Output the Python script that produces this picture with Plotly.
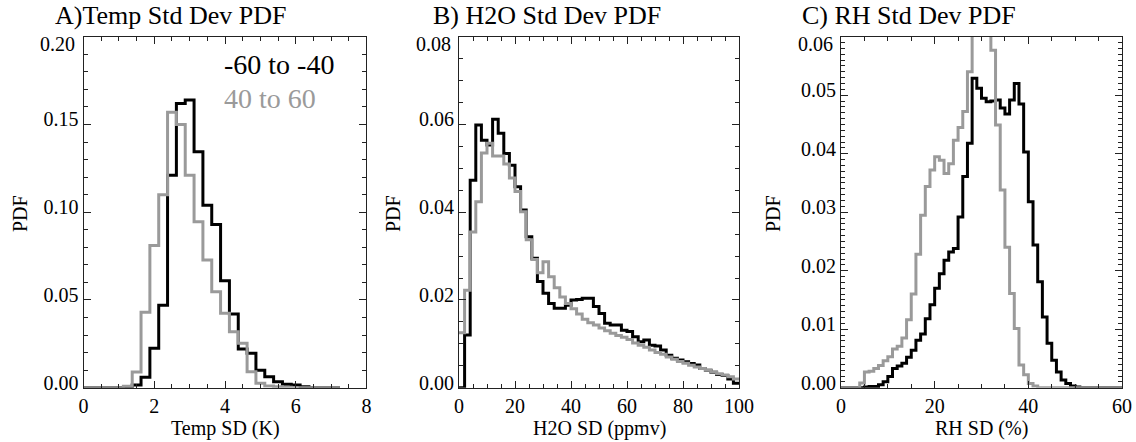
import plotly.graph_objects as go

# ---------------- data ----------------
# Panel A: temperature SD histogram (bin centres, width 0.25 K)
temp_x = [i * 0.25 for i in range(30)]
temp_s = [0, 0, 0, 0, 0, 0, 0.0015, 0.006, 0.0225, 0.047,
          0.121, 0.162, 0.164, 0.1345, 0.104, 0.093, 0.061, 0.042, 0.022, 0.0196,
          0.010, 0.0063, 0.0034, 0.002, 0.0015, 0.0006, 0, 0, 0, 0]
temp_n = [0, 0, 0, 0, 0, 0.0008, 0.009, 0.043, 0.081, 0.110,
          0.157, 0.150, 0.121, 0.0946, 0.0727, 0.0547, 0.0424, 0.0319, 0.0253, 0.0091,
          0.0025, 0.001, 0.0005, 0.0002, 0, 0, 0, 0, 0, 0]

# Panel B: H2O SD histogram (lower bin edges, width 2 ppmv)
h2o_edges = [2 * i for i in range(51)]
h2o_s = [0.000, 0.012, 0.0473, 0.0599, 0.0564, 0.0553, 0.0612, 0.0580, 0.0534, 0.0507,
         0.0458, 0.0405, 0.0344, 0.0295, 0.0242, 0.0215, 0.0192, 0.0181, 0.0181, 0.0188,
         0.0200, 0.0201, 0.0204, 0.0204, 0.0185, 0.0169, 0.0147, 0.0143, 0.0143, 0.0131,
         0.0128, 0.0116, 0.0105, 0.0109, 0.0097, 0.0095, 0.0086, 0.0074, 0.0067, 0.0063,
         0.0059, 0.0055, 0.0052, 0.0044, 0.0040, 0.0035, 0.0030, 0.0028, 0.0020, 0.0010]
h2o_n = [0.0125, 0.0222, 0.0355, 0.0424, 0.0535, 0.0557, 0.0528, 0.0528, 0.0510, 0.0478,
         0.0447, 0.0401, 0.0337, 0.0292, 0.0262, 0.0287, 0.0253, 0.0228, 0.0207, 0.0192,
         0.0180, 0.0168, 0.0156, 0.0148, 0.0143, 0.0136, 0.0130, 0.0124, 0.0119, 0.0115,
         0.0110, 0.0102, 0.0097, 0.0092, 0.0086, 0.0080, 0.0076, 0.0070, 0.0065, 0.0060,
         0.0056, 0.0051, 0.0047, 0.0044, 0.0040, 0.0036, 0.0032, 0.0029, 0.0025, 0.0020]

# Panel C: RH SD histogram (lower bin edges, width 1 %)
rh_edges = list(range(61))
rh_s = [0, 0, 0, 0, 0, 0.0001, 0.0002, 0.0002, 0.0005, 0.0010,
        0.0019, 0.0033, 0.0037, 0.0042, 0.0052, 0.0064, 0.0081, 0.0092, 0.0118, 0.0142,
        0.0170, 0.0195, 0.0218, 0.0232, 0.0238, 0.0292, 0.0361, 0.0418, 0.0529, 0.0512,
        0.0495, 0.0489, 0.0490, 0.0492, 0.0478, 0.0468, 0.0492, 0.0520, 0.0485, 0.0403,
        0.0318, 0.0244, 0.0181, 0.0121, 0.0076, 0.0047, 0.0027, 0.0013, 0.0007, 0.0003,
        0.0001, 0, 0, 0, 0, 0, 0, 0, 0, 0]
rh_n = [0, 0, 0, 0, 0.0008, 0.0027, 0.0028, 0.0033, 0.0038, 0.0046,
        0.0053, 0.0066, 0.0071, 0.0085, 0.0116, 0.0160, 0.0228, 0.0295, 0.0344, 0.0372,
        0.0395, 0.0389, 0.0366, 0.0383, 0.0423, 0.0445, 0.0472, 0.0540, 0.0630, 0.0680,
        0.0680, 0.0640, 0.0577, 0.0449, 0.0338, 0.0240, 0.0161, 0.0101, 0.0039, 0.0022,
        0.0007, 0.0003, 0, 0, 0, 0, 0, 0, 0, 0,
        0, 0, 0, 0, 0, 0, 0, 0, 0, 0]

series_names = ["-60 to -40", "40 to 60"]
panel_titles = ["A)Temp Std Dev PDF", "B) H2O Std Dev PDF", "C) RH Std Dev PDF"]
x_titles = ["Temp SD (K)", "H2O SD (ppmv)", "RH SD (%)"]
y_title = "PDF"
y_tick_vals = [[0, 0.05, 0.10, 0.15], [0, 0.02, 0.04, 0.06],
               [0, 0.01, 0.02, 0.03, 0.04, 0.05]]
y_top_labels = ["0.20", "0.08", "0.06"]

# ---------------- styling ----------------
W, H = 1136, 442
BLACK = "#000000"
GRAY = "#9a9a9a"
FONT = "Liberation Serif, Times New Roman, serif"
LW = 3
AXC = "#222222"


def px(xp):
    return xp / W


def py(yp):
    return 1 - yp / H


fig = go.Figure()

# Panel A
fig.add_trace(go.Scatter(x=temp_x, y=temp_s, mode="lines", line=dict(color=BLACK, width=LW, shape="hvh"),
                         xaxis="x", yaxis="y", showlegend=False))
fig.add_trace(go.Scatter(x=temp_x, y=temp_n, mode="lines", line=dict(color=GRAY, width=LW, shape="hvh"),
                         xaxis="x", yaxis="y", showlegend=False))
# Panel B
fig.add_trace(go.Scatter(x=h2o_edges, y=h2o_s + h2o_s[-1:], mode="lines", line=dict(color=BLACK, width=LW, shape="hv"),
                         xaxis="x2", yaxis="y2", showlegend=False))
fig.add_trace(go.Scatter(x=h2o_edges, y=h2o_n + h2o_n[-1:], mode="lines", line=dict(color=GRAY, width=LW, shape="hv"),
                         xaxis="x2", yaxis="y2", showlegend=False))
# Panel C
fig.add_trace(go.Scatter(x=rh_edges, y=rh_s + rh_s[-1:], mode="lines", line=dict(color=BLACK, width=LW, shape="hv"),
                         xaxis="x3", yaxis="y3", showlegend=False))
fig.add_trace(go.Scatter(x=rh_edges, y=rh_n + rh_n[-1:], mode="lines", line=dict(color=GRAY, width=LW, shape="hv"),
                         xaxis="x3", yaxis="y3", showlegend=False))

x_doms = [(83.6, 366.4), (459.0, 739.0), (841.0, 1122.0)]
y_dom = (py(387.7), py(36.7))
x_ranges = [(0, 8), (0, 100), (0, 60)]
x_dticks = [(2, 0.5), (20, 5), (20, 5)]
y_ranges = [(0, 0.2), (0, 0.08), (0, 0.06)]
y_minor = [0.01, 0.005, 0.001]

common = dict(showgrid=False, zeroline=False, showline=True, linecolor=AXC, linewidth=1,
              mirror="allticks", ticks="inside", ticklen=7, tickcolor=AXC, tickwidth=1,
              tickfont=dict(family=FONT, size=20, color="black"), automargin=False)

for i in range(3):
    sfx = "" if i == 0 else str(i + 1)
    xa = dict(common, domain=[px(x_doms[i][0]), px(x_doms[i][1])], range=list(x_ranges[i]),
              dtick=x_dticks[i][0], tick0=0, anchor="y" + sfx,
              minor=dict(dtick=x_dticks[i][1], ticks="inside", ticklen=4, tickcolor=AXC))
    ya = dict(common, domain=list(y_dom), range=list(y_ranges[i]), tickmode="array",
              tickvals=y_tick_vals[i], ticktext=["%.2f" % v for v in y_tick_vals[i]],
              ticklabelshift=-5, anchor="x" + sfx,
              minor=dict(dtick=y_minor[i], tick0=0, ticks="inside", ticklen=4, tickcolor=AXC))
    fig.layout["xaxis" + sfx] = xa
    fig.layout["yaxis" + sfx] = ya

annotations = []
title_left = [53, 431, 800]
for i in range(3):
    annotations.append(dict(text=panel_titles[i], x=px(title_left[i]), y=py(16), xref="paper", yref="paper",
                            xanchor="left", yanchor="middle", showarrow=False,
                            font=dict(family=FONT, size=26, color="black")))
    cx = (x_doms[i][0] + x_doms[i][1]) / 2
    annotations.append(dict(text=x_titles[i], x=px(cx), y=py(428), xref="paper", yref="paper",
                            xanchor="center", yanchor="middle", showarrow=False,
                            font=dict(family=FONT, size=20, color="black")))
    # top tick label sits a little below the frame, as in the original
    annotations.append(dict(text=y_top_labels[i], x=px(x_doms[i][0] - 6.5), y=py(44), xref="paper", yref="paper",
                            xanchor="right", yanchor="middle", showarrow=False,
                            font=dict(family=FONT, size=20, color="black")))
ylab_x = [20, 393, 773]
for i in range(3):
    annotations.append(dict(text=y_title, x=px(ylab_x[i]), y=py(214), xref="paper", yref="paper",
                            xanchor="center", yanchor="middle", textangle=-90, showarrow=False,
                            font=dict(family=FONT, size=20, color="black")))
# legend labels inside panel A
annotations.append(dict(text=series_names[0], x=px(222), y=py(64), xref="paper", yref="paper",
                        xanchor="left", yanchor="middle", showarrow=False,
                        font=dict(family=FONT, size=28, color=BLACK)))
annotations.append(dict(text=series_names[1], x=px(222), y=py(98), xref="paper", yref="paper",
                        xanchor="left", yanchor="middle", showarrow=False,
                        font=dict(family=FONT, size=28, color=GRAY)))

fig.update_layout(width=W, height=H, margin=dict(l=0, r=0, t=0, b=0),
                  paper_bgcolor="white", plot_bgcolor="white", annotations=annotations,
                  font=dict(family=FONT, color="black"))

fig.write_html("out.html")
